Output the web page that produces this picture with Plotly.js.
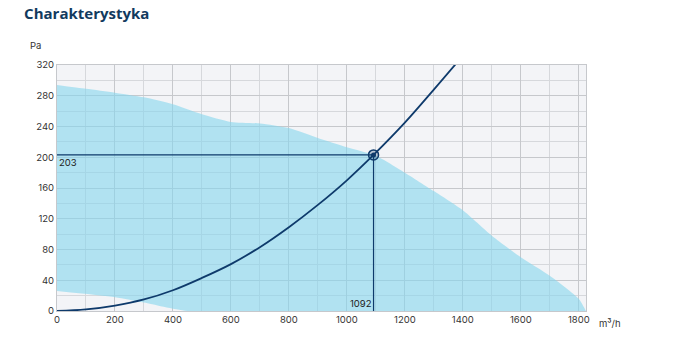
<!DOCTYPE html>
<html><head><meta charset="utf-8">
<script src="https://cdn.plot.ly/plotly-3.0.1.min.js"></script>
<style>body{margin:0;background:#fff}#c{width:689px;height:358px}</style>
</head><body><div id="c"></div>
<script>
// Fan envelope (upper boundary), m3/h vs Pa
const envX = [0, 100, 200, 300, 400, 500, 600, 700, 800, 900, 1000, 1100, 1200, 1300, 1400, 1500, 1600, 1700, 1800, 1825];
const envY = [294, 289, 284, 278, 269, 256, 246, 244, 238, 225, 213, 202, 180, 156, 131, 98, 70, 46, 16, 0];
// Envelope lower boundary (from right to left)
const lowX = [1825, 450, 300, 200, 0];
const lowY = [0, 0, 11, 18, 26];
// System curve
const sysX = [0, 100, 200, 300, 400, 500, 600, 700, 800, 900, 1000, 1092, 1200, 1300, 1375];
const sysY = [0, 2, 7, 15, 27, 43, 61, 83, 109, 138, 170, 203, 245, 288, 321];
// Operating point
const opX = [1092];
const opY = [203];
const xTicks = [0, 200, 400, 600, 800, 1000, 1200, 1400, 1600, 1800];
const yTicks = [0, 40, 80, 120, 160, 200, 240, 280, 320];

const navy = '#0e3a6b';
const polyX = envX.concat(lowX);
const polyY = envY.concat(lowY);

const traces = [
  {x: polyX, y: polyY, type: 'scatter', mode: 'lines', fill: 'toself',
   fillcolor: 'rgba(134,213,236,0.6)', line: {width: 0, color: 'rgba(0,0,0,0)', shape: 'spline', smoothing: 0.6}, hoverinfo: 'skip'},
  {x: [0, opX[0], opX[0]], y: [opY[0], opY[0], 0], type: 'scatter', mode: 'lines',
   line: {color: navy, width: 1.2}},
  {x: sysX, y: sysY, type: 'scatter', mode: 'lines', line: {color: navy, width: 1.8, shape: 'spline'}},
  {x: opX, y: opY, type: 'scatter', mode: 'markers',
   marker: {size: 10, color: 'rgba(14,58,107,0.25)', line: {color: navy, width: 1.5}}},
  {x: opX, y: opY, type: 'scatter', mode: 'markers',
   marker: {size: 5, color: navy}}
];

const layout = {
  width: 689, height: 358,
  margin: {l: 57, r: 103, t: 65, b: 47},
  paper_bgcolor: '#ffffff', plot_bgcolor: '#f3f4f7',
  showlegend: false,
  font: {family: 'Inter, "Open Sans", sans-serif', size: 9.5, color: '#333'},
  title: {text: '<b>Charakterystyka</b>', x: 0.035, xanchor: 'left', y: 0.975, yanchor: 'top',
          font: {family: '"Open Sans", sans-serif', size: 15, color: '#123a5e'}},
  xaxis: {range: [0, 1825], tickvals: xTicks, ticktext: xTicks.map(String), showgrid: true,
          gridcolor: '#c6c8cc', gridwidth: 1, zeroline: false, showline: true, linecolor: '#c6c8cc', mirror: true,
          minor: {dtick: 100, showgrid: true, gridcolor: '#d6d8dc', gridwidth: 1},
          ticks: '', ticklen: 0, tickfont: {size: 9.5, color: '#333'}},
  yaxis: {range: [0, 320], tickvals: yTicks, ticktext: yTicks.map(String), showgrid: true,
          gridcolor: '#c6c8cc', gridwidth: 1, zeroline: false, showline: true, linecolor: '#c6c8cc', mirror: true,
          minor: {dtick: 20, showgrid: true, gridcolor: '#d6d8dc', gridwidth: 1},
          ticks: '', ticklen: 0, tickfont: {size: 9.5, color: '#333'}},
  annotations: [
    {text: 'Pa', xref: 'paper', yref: 'paper', x: -0.04, y: 1.05, xanchor: 'center', yanchor: 'bottom',
     showarrow: false, font: {size: 9.5, color: '#333'}},
    {text: 'm³/h', xref: 'paper', yref: 'paper', x: 1.02, y: -0.02, xanchor: 'left', yanchor: 'top',
     showarrow: false, font: {size: 9.5, color: '#333'}},
    {text: String(opY[0]), x: 0, y: opY[0], xref: 'x', yref: 'y', xanchor: 'left', yanchor: 'top',
     showarrow: false, font: {size: 9.5, color: '#222'}},
    {text: String(opX[0]), x: opX[0], y: 0, xref: 'x', yref: 'y', xanchor: 'right', yanchor: 'bottom',
     showarrow: false, font: {size: 9.5, color: '#222'}}
  ]
};
Plotly.newPlot('c', traces, layout, {displayModeBar: false, staticPlot: true});
</script></body></html>
